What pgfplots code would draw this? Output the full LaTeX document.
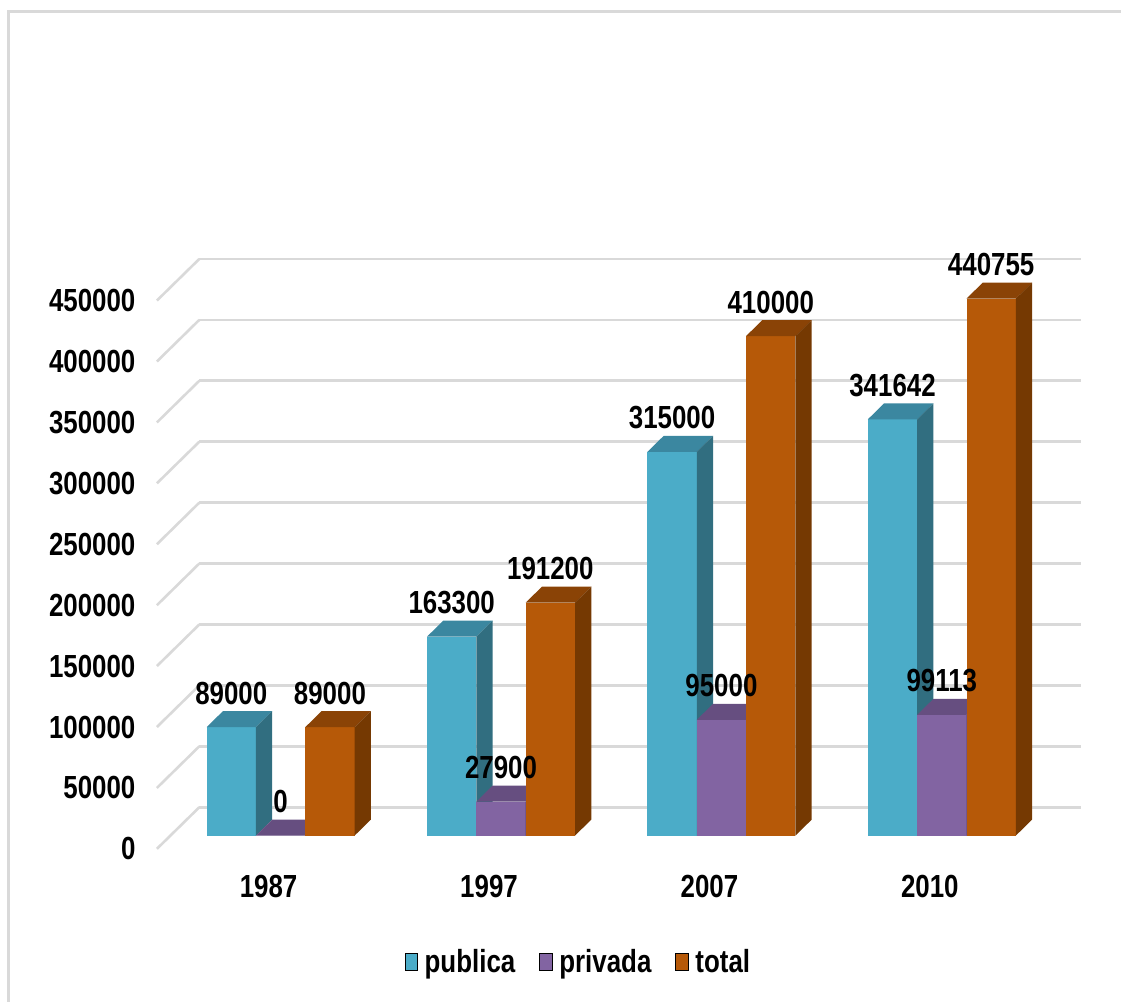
\documentclass[border=0pt]{standalone}
\usepackage{fontspec}
\setmainfont[FakeStretch=0.81]{Liberation Sans}
\usepackage{pgfplots}
\usepackage{pgfplotstable}
\pgfplotsset{compat=1.18}

\definecolor{pubF}{HTML}{4BACC8}
\definecolor{pubT}{HTML}{3B87A0}
\definecolor{pubS}{HTML}{316E80}
\definecolor{priF}{HTML}{8264A2}
\definecolor{priT}{HTML}{664E80}
\definecolor{priS}{HTML}{563F6E}
\definecolor{totF}{HTML}{B65908}
\definecolor{totT}{HTML}{8A4306}
\definecolor{totS}{HTML}{753902}
\definecolor{rule}{HTML}{D9D9D9}

\pgfplotstableread{
g v
0 89000
1 163300
2 315000
3 341642
}\publica
\pgfplotstableread{
g v
0 0
1 27900
2 95000
3 99113
}\privada
\pgfplotstableread{
g v
0 89000
1 191200
2 410000
3 440755
}\total

% Bar width in category units; a bar fills depth 0..1.
\def\bw{0.2238}

% #1 table, #2 slot in the group (-1,0,1), #3 front, #4 top, #5 side colour
\newcommand{\solidbars}[5]{%
  \pgfplotsforeachungrouped \i in {0,1,2,3}{%
    \pgfplotstablegetelem{\i}{v}\of#1\let\val\pgfplotsretval
    \pgfmathsetmacro\xl{\i+(#2-0.5)*\bw}%
    \pgfmathsetmacro\xr{\i+(#2+0.5)*\bw}%
    \addplot3[forget plot,draw=none,fill=#3] coordinates
      {(\xl,0,\val)(\xr,0,\val)(\xr,0,0)(\xl,0,0)} --cycle;
    \addplot3[forget plot,draw=none,fill=#4] coordinates
      {(\xl,0,\val)(\xr,0,\val)(\xr,1,\val)(\xl,1,\val)} --cycle;
    \addplot3[forget plot,draw=none,fill=#5] coordinates
      {(\xr,0,0)(\xr,1,0)(\xr,1,\val)(\xr,0,\val)} --cycle;
  }%
}
% #1 table, #2 slot in the group
\newcommand{\barlabels}[2]{%
  \addplot3[forget plot,draw=none,mark=none,
    point meta=explicit symbolic,
    nodes near coords,
    nodes near coords align={center},
    every node near coord/.style={font=\chartfont,text=black,anchor=center,yshift=34pt,inner sep=0pt}]
    table[x expr=\thisrow{g}+#2*\bw,y expr=0,z=v,meta=v]{#1};
}
\newcommand{\chartfont}{\fontsize{32}{33}\selectfont\bfseries}

\begin{document}
\begin{tikzpicture}
\begin{axis}[
  x={(220.7pt,0pt)}, y={(16.3pt,16pt)}, z={(0pt,0.00122pt)},
  xmin=-0.5, xmax=3.5, ymin=-0.83, ymax=1.775, zmin=0, zmax=450000,
  clip=false,
  axis line style={draw=none},
  tick style={draw=none},
  major tick length=0pt,
  xtick={0,1,2,3},
  xticklabels={1987,1997,2007,2010},
  ytick=\empty,
  ztick={0,50000,100000,150000,200000,250000,300000,350000,400000,450000},
  zticklabels={0,50000,100000,150000,200000,250000,300000,350000,400000,450000},
  scaled z ticks=false,
  zmajorgrids=true,
  grid style={line width=2.6pt,rule},
  tick label style={font=\chartfont,text=black},
  xticklabel style={anchor=center,yshift=-38pt,xshift=1.5pt},
  zticklabel style={anchor=east,xshift=-18pt},
  legend columns=-1,
  legend style={at={(rel axis cs:0,0,0)},anchor=center,xshift=421pt,yshift=-113pt,
    draw=none,fill=none,font=\chartfont,nodes={inner sep=0pt},
    /tikz/every odd column/.append style={column sep=7.3pt},
    /tikz/every even column/.append style={column sep=24pt}},
  legend image code/.code={\fill[#1] (0pt,-9pt) rectangle (12.4pt,9pt);},
]
\solidbars{\publica}{-1}{pubF}{pubT}{pubS}
\solidbars{\privada}{0}{priF}{priT}{priS}
\solidbars{\total}{1}{totF}{totT}{totS}
\barlabels{\publica}{-1}
\barlabels{\privada}{0}
\barlabels{\total}{1}
\addlegendimage{fill=pubF}\addlegendentry{publica}
\addlegendimage{fill=priF}\addlegendentry{privada}
\addlegendimage{fill=totF}\addlegendentry{total}
\coordinate (P) at (axis cs:0,0,0);
\end{axis}
% Frame and page extent, measured from the front of the first category.
\pgfresetboundingbox
\draw[rule,line width=3pt,shift={(P)}] (-272.5pt,-166.3pt) -- (-272.5pt,825.3pt) -- (841pt,825.3pt);
\path[use as bounding box,shift={(P)}] (-281pt,-166.3pt) rectangle +(1122pt,1003pt);
\end{tikzpicture}
\end{document}
